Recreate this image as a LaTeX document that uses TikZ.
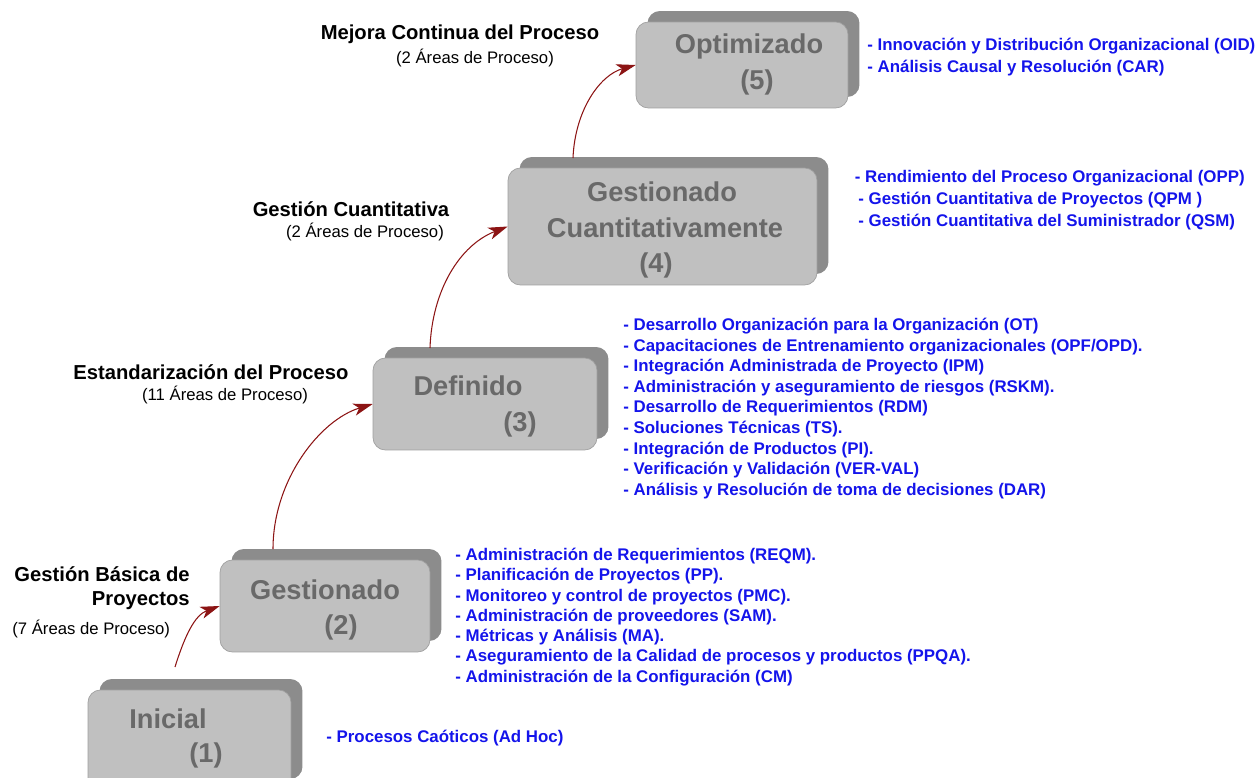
\documentclass[tikz,border=0pt]{standalone}
\usepackage{fontspec}
\setmainfont{Liberation Sans}
\usetikzlibrary{arrows.meta, shadows}

\definecolor{boxfront}{RGB}{192,192,192}
\definecolor{boxback}{RGB}{140,140,140}
\definecolor{boxline}{RGB}{160,160,160}
\definecolor{boxtext}{RGB}{105,105,105}
\definecolor{listblue}{RGB}{20,20,235}
\definecolor{arrowred}{RGB}{140,20,20}

\tikzstyle{stagebox} = [rectangle, rounded corners=7pt, draw=boxline, fill=boxfront, inner sep=0pt, copy shadow={shadow xshift=0.23cm, shadow yshift=0.22cm, fill=boxback, draw=none}]
\tikzstyle{stagetext} = [text=boxtext, font=\fontsize{15.5}{18}\selectfont\bfseries, inner sep=0pt]
\tikzstyle{arealist} = [text=listblue, font=\fontsize{9.6}{11.5}\selectfont\bfseries, align=left, anchor=west, inner sep=0pt]
\tikzstyle{stagegoal} = [font=\fontsize{11.5}{13.5}\selectfont\bfseries, inner sep=0pt]
\tikzstyle{areacount} = [font=\fontsize{9.5}{11}\selectfont, inner sep=0pt]
\tikzstyle{arrow} = [semithick, draw=arrowred, -{Stealth[length=11pt,width=7pt,inset=3pt]}]

\begin{document}
\begin{tikzpicture}[x=0.02cm, y=-0.02cm]
  \useasboundingbox (0,0) rectangle (1259,778);
  \clip (0,0) rectangle (1259,778);

  % niveles
  \node[stagebox, minimum width=4.06cm, minimum height=2.0cm] (b1) at (189.5,740) {};
  \node[stagebox, minimum width=4.2cm, minimum height=1.84cm] (b2) at (325,606) {};
  \node[stagebox, minimum width=4.48cm, minimum height=1.84cm] (b3) at (485,404) {};
  \node[stagebox, minimum width=6.18cm, minimum height=2.34cm] (b4) at (662.5,226.5) {};
  \node[stagebox, minimum width=4.24cm, minimum height=1.72cm] (b5) at (742,65) {};

  \node[stagetext] (b1t) at (168,719) {Inicial};
  \node[stagetext] (b1n) at (206,755) {(1)};
  \node[stagetext] (b2t) at (325,590) {Gestionado};
  \node[stagetext] (b2n) at (341,627) {(2)};
  \node[stagetext] (b3t) at (468,386) {Definido};
  \node[stagetext] (b3n) at (520,424) {(3)};
  \node[stagetext] (b4t) at (662,192) {Gestionado};
  \node[stagetext] (b4u) at (665,228) {Cuantitativamente};
  \node[stagetext] (b4n) at (656,265) {(4)};
  \node[stagetext] (b5t) at (749,46) {Optimizado};
  \node[stagetext] (b5n) at (757,82) {(5)};

  % areas de proceso
  \node[arealist] (a1) at (326,738) {- Procesos Caóticos (Ad Hoc)};
  \node[arealist] (a2) at (455,617) {- Administración de Requerimientos (REQM).\\
    - Planificación de Proyectos (PP).\\
    - Monitoreo y control de proyectos (PMC).\\
    - Administración de proveedores (SAM).\\
    - Métricas y Análisis (MA).\\
    - Aseguramiento de la Calidad de procesos y productos (PPQA).\\
    - Administración de la Configuración (CM)};
  \node[arealist, font=\fontsize{9.6}{11.7}\selectfont\bfseries] (a3) at (623,408.5) {- Desarrollo Organización para la Organización (OT)\\
    - Capacitaciones de Entrenamiento organizacionales (OPF/OPD).\\
    - Integración Administrada de Proyecto (IPM)\\
    - Administración y aseguramiento de riesgos (RSKM).\\
    - Desarrollo de Requerimientos (RDM)\\
    - Soluciones Técnicas (TS).\\
    - Integración de Productos (PI).\\
    - Verificación y Validación (VER-VAL)\\
    - Análisis y Resolución de toma de decisiones (DAR)};
  \node[arealist, font=\fontsize{9.6}{12.7}\selectfont\bfseries] (a4) at (858,200) {\hspace*{-2pt}- Rendimiento del Proceso Organizacional (OPP)\\
    - Gestión Cuantitativa de Proyectos (QPM )\\
    - Gestión Cuantitativa del Suministrador (QSM)};
  \node[arealist, font=\fontsize{9.6}{12.5}\selectfont\bfseries] (a5) at (867,57) {- Innovación y Distribución Organizacional (OID)\\
    - Análisis Causal y Resolución (CAR)};

  % metas
  \node[stagegoal, align=right, anchor=east] (g2) at (190,588) {Gestión Básica de\\Proyectos};
  \node[areacount, anchor=west] (c2) at (12,629) {(7 Áreas de Proceso)};
  \node[stagegoal] (g3) at (211,372) {Estandarización del Proceso};
  \node[areacount] (c3) at (225,395) {(11 Áreas de Proceso)};
  \node[stagegoal] (g4) at (351,209) {Gestión Cuantitativa};
  \node[areacount] (c4) at (365,232) {(2 Áreas de Proceso)};
  \node[stagegoal] (g5) at (460,34) {Mejora Continua del Proceso};
  \node[areacount] (c5) at (475,58) {(2 Áreas de Proceso)};

  \coordinate (s1) at (175,667);
  \coordinate (s2) at (273,549);
  \coordinate (s3) at (430,348);
  \coordinate (s4) at (573,158);

  \draw[arrow] (s1) .. controls (185,635) and (195,615) .. (b2.west);
  \draw[arrow] (s2) .. controls (273,480) and (320,420) .. (b3.west);
  \draw[arrow] (s3) .. controls (432,290) and (460,245) .. (b4.west);
  \draw[arrow] (s4) .. controls (575,110) and (600,75) .. (b5.west);

\end{tikzpicture}
\end{document}
